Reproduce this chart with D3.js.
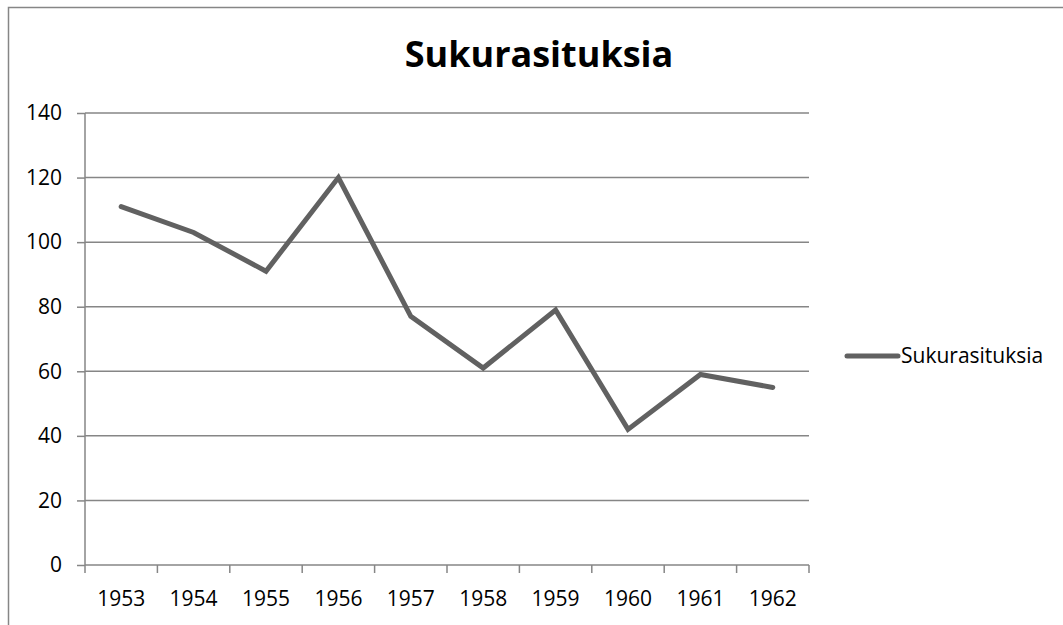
<!DOCTYPE html>
<html>
<head>
<meta charset="utf-8">
<script src="https://cdn.jsdelivr.net/npm/d3@7"></script>
<style>
  body { margin: 0; background: #fff; }
  text { font-family: "Open Sans", Lato, sans-serif; }
</style>
</head>
<body>
<div id="chart"></div>
<script>
const years = ['1953', '1954', '1955', '1956', '1957', '1958', '1959', '1960', '1961', '1962'];
const sukurasituksia = [111, 103, 91, 120, 77, 61, 79, 42, 59, 55];
const yTicks = [0, 20, 40, 60, 80, 100, 120, 140];
const seriesName = 'Sukurasituksia';

var W = 1063, H = 625;
var margin = { top: 113, right: 254, bottom: 60, left: 85 },
    width = W - margin.left - margin.right,
    height = H - margin.top - margin.bottom;

var svg = d3.select('#chart').append('svg')
    .attr('width', W)
    .attr('height', H);

// outer chart frame
svg.append('rect')
    .attr('x', 8.5)
    .attr('y', 7.5)
    .attr('width', W)
    .attr('height', H)
    .attr('fill', 'none')
    .attr('stroke', '#868686')
    .attr('stroke-width', 1.5);

// title
svg.append('text')
    .attr('x', 539)
    .attr('y', 67)
    .attr('text-anchor', 'middle')
    .style('font-size', '36px')
    .style('font-weight', 'bold')
    .attr('fill', '#000')
    .text(seriesName);

var g = svg.append('g')
    .attr('transform', 'translate(' + margin.left + ',' + margin.top + ')');

var xScale = d3.scaleBand()
    .domain(years)
    .range([0, width]);

var yScale = d3.scaleLinear()
    .domain([0, 140])
    .range([height, 0]);

// gridlines
g.append('g')
    .selectAll('line')
    .data(yTicks.filter(d => d > 0))
    .enter().append('line')
    .attr('x1', 0)
    .attr('x2', width)
    .attr('y1', d => yScale(d))
    .attr('y2', d => yScale(d))
    .attr('stroke', '#868686')
    .attr('stroke-width', 1.5);

// y axis
var yAxis = g.append('g')
    .call(d3.axisLeft(yScale).tickValues(yTicks).tickSize(8).tickPadding(15));
yAxis.selectAll('line, path').attr('stroke', '#868686').attr('stroke-width', 1.5);
yAxis.select('.domain').attr('d', 'M0,0V' + height);
yAxis.selectAll('text')
    .style('font-size', '21px')
    .attr('fill', '#000');

// x axis (ticks on band boundaries)
var xAxis = g.append('g')
    .attr('transform', 'translate(0,' + height + ')');
xAxis.append('line')
    .attr('x1', 0).attr('x2', width)
    .attr('stroke', '#868686').attr('stroke-width', 1.5);
xAxis.selectAll('line.tick')
    .data(years.concat(['end']))
    .enter().append('line')
    .attr('class', 'tick')
    .attr('x1', (d, i) => i * xScale.step())
    .attr('x2', (d, i) => i * xScale.step())
    .attr('y1', 0)
    .attr('y2', 8)
    .attr('stroke', '#868686').attr('stroke-width', 1.5);
xAxis.selectAll('text')
    .data(years)
    .enter().append('text')
    .attr('x', d => xScale(d) + xScale.bandwidth() / 2)
    .attr('y', 41)
    .attr('text-anchor', 'middle')
    .style('font-size', '21px')
    .attr('fill', '#000')
    .text(d => d);

// series line
var line = d3.line()
    .x((d, i) => xScale(years[i]) + xScale.bandwidth() / 2)
    .y(d => yScale(d));

g.append('path')
    .attr('fill', 'none')
    .attr('stroke', '#616161')
    .attr('stroke-width', 5)
    .attr('stroke-linejoin', 'miter')
    .attr('stroke-linecap', 'round')
    .attr('d', line(sukurasituksia));

// legend
var legend = svg.append('g')
    .attr('transform', 'translate(847,356)');
legend.append('line')
    .attr('x1', 0).attr('x2', 51)
    .attr('stroke', '#616161')
    .attr('stroke-width', 5)
    .attr('stroke-linecap', 'round');
legend.append('text')
    .attr('x', 54)
    .attr('y', 7)
    .style('font-size', '21px')
    .attr('fill', '#000')
    .text(seriesName);
</script>
</body>
</html>
